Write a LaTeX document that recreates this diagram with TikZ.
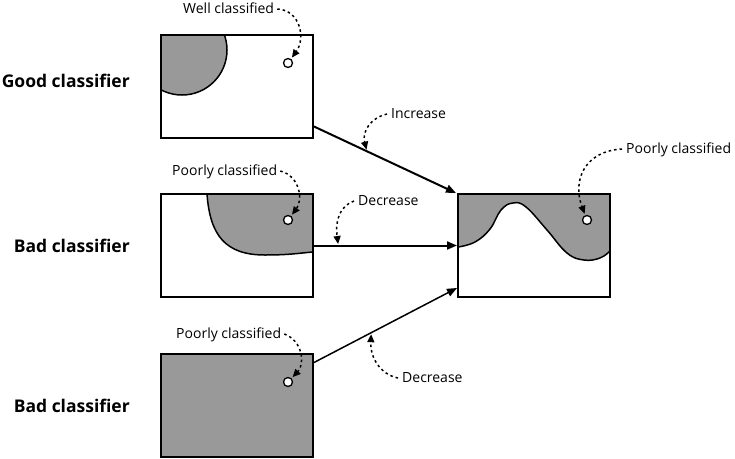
\documentclass[tikz,border=0pt]{standalone}
\usepackage{fontspec}
\setmainfont{Open Sans}
\usetikzlibrary{arrows.meta,calc}
\definecolor{regiongray}{RGB}{153,153,153}
\tikzset{
  panel/.style={draw, line width=2pt, minimum width=152pt, minimum height=103pt, inner sep=0pt},
  bigtext/.style={font=\fontsize{17.5}{20}\selectfont\bfseries, inner sep=0pt, anchor=base east},
  smalltext/.style={font=\fontsize{14}{16}\selectfont, inner sep=0pt, anchor=base west},
  sample/.style={circle, draw, line width=1.3pt, fill=white, minimum size=9pt, inner sep=0pt},
  boundary/.style={line width=1.5pt},
  flow/.style={line width=2pt, -{Triangle[length=10pt,width=8pt]}},
  flowthin/.style={line width=1.5pt, -{Triangle[length=10pt,width=8pt]}},
  hint/.style={line width=1.5pt, dash pattern=on 2.5pt off 3pt, -{Triangle[length=8pt,width=7pt]}, shorten >=1.5pt}
}
\begin{document}
\begin{tikzpicture}[x=1pt,y=-1pt]
\useasboundingbox (0,0) rectangle (735,458);

% gray regions
\begin{scope}
  \clip (161,35) rectangle (313,137);
  \fill[regiongray] (182,50) circle (45);
  \draw[boundary] (182,50) circle (45);
\end{scope}
\fill[regiongray] (207,194) .. controls (210,235) and (225,255) .. (265,255)
  .. controls (290,255) and (300,253) .. (313,252) -- (313,194) -- cycle;
\draw[boundary] (207,194) .. controls (210,235) and (225,255) .. (265,255)
  .. controls (290,255) and (300,253) .. (313,252);
\fill[regiongray] (161,353) rectangle (313,457);
\fill[regiongray] (458,194) -- plot[smooth, tension=0.7] coordinates {(458,247) (475,242) (490,229) (501,210) (513,203) (526,207) (547,230) (567,253) (584,260) (600,258) (610,251)} -- (610,194) -- cycle;
\draw[boundary] plot[smooth, tension=0.7] coordinates {(458,247) (475,242) (490,229) (501,210) (513,203) (526,207) (547,230) (567,253) (584,260) (600,258) (610,251)};

% panels
\node[panel] (b1) at (237,86) {};
\node[panel] (b2) at (237,245.5) {};
\node[panel] (b3) at (237,405) {};
\node[panel] (r) at (534,245.5) {};

% row labels
\node[bigtext] (g) at (130,87) {Good classifier};
\node[bigtext] (bad1) at (130,252) {Bad classifier};
\node[bigtext] (bad2) at (130,412) {Bad classifier};

% samples
\node[sample] (c1) at (288,63) {};
\node[sample] (c2) at (288,220) {};
\node[sample] (c3) at (288,382) {};
\node[sample] (c4) at (587,220) {};

% small labels
\node[smalltext] (l1) at (183,13) {Well classified};
\node[smalltext] (l2) at (172,175) {Poorly classified};
\node[smalltext] (l3) at (176,338) {Poorly classified};
\node[smalltext] (l4) at (626,153) {Poorly classified};
\node[smalltext] (inc) at (391,118) {Increase};
\node[smalltext] (dec1) at (358,205) {Decrease};
\node[smalltext] (dec2) at (402,382) {Decrease};

% main connectors
\coordinate (s1) at ([yshift=12pt]b1.south east);
\coordinate (s3) at ([yshift=-10pt]b3.north east);
\coordinate (t3) at ([yshift=10pt]r.south west);
\draw[flow] (s1) -- ([xshift=-1pt]r.north west);
\draw[flow] (b2.east) -- (r.west);
\draw[flowthin] (s3) -- (t3);

% hint targets on connectors
\coordinate (h1) at ($(s1)!0.37!(r.north west)$);
\coordinate (h2) at ($(b2.east)!0.17!(r.west)$);
\coordinate (h3) at ($(s3)!0.40!(t3)$);

% dotted hints
\draw[hint] ([xshift=3pt]l1.east |- 0,9) .. controls (300,10) and (306,38) .. (c1);
\draw[hint] ([xshift=3pt]l2.east |- 0,171) .. controls (300,176) and (303,200) .. (c2);
\draw[hint] ([xshift=3pt]l3.east |- 0,334) .. controls (303,341) and (305,364) .. (c3);
\draw[hint] ([xshift=-4pt]l4.west |- 0,149) .. controls (585,151) and (572,180) .. (c4);
\draw[hint] ([xshift=-4pt]inc.west |- 0,114) .. controls (370,118) and (362,132) .. (h1);
\draw[hint] ([xshift=-4pt]dec1.west |- 0,201) .. controls (340,206) and (335,220) .. (h2);
\draw[hint] ([xshift=-4pt]dec2.west |- 0,378) .. controls (385,376) and (370,362) .. (h3);
\end{tikzpicture}
\end{document}
